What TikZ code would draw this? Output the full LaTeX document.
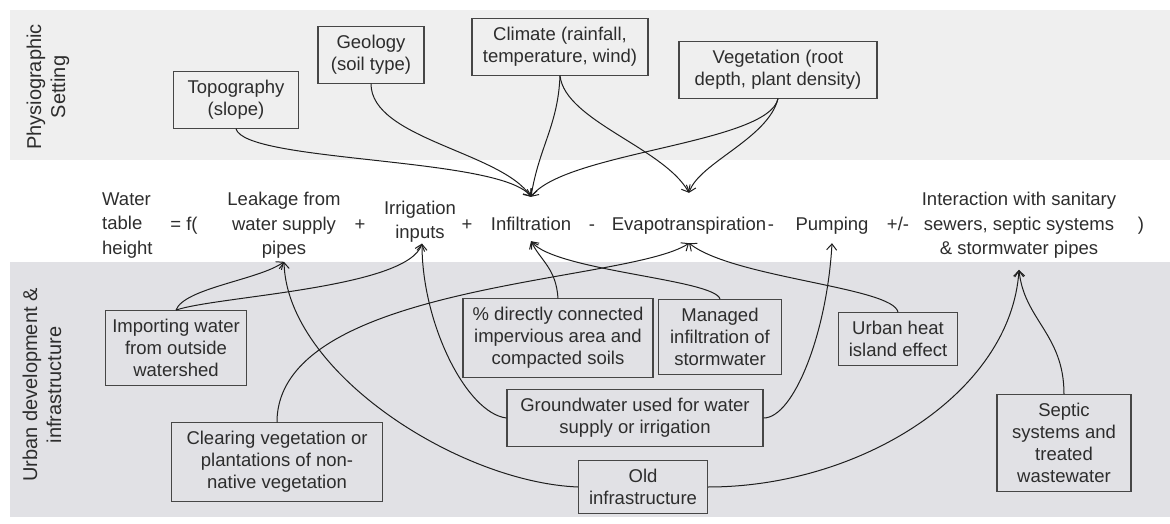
\documentclass[tikz,border=0pt]{standalone}
\usepackage{fontspec}
\setmainfont{Liberation Sans}
\usetikzlibrary{arrows.meta}
\definecolor{topband}{RGB}{239,239,239}
\definecolor{lowband}{RGB}{225,225,229}
\definecolor{ink}{RGB}{45,45,45}
\definecolor{boxline}{RGB}{70,70,70}
\definecolor{wire}{RGB}{30,30,30}
\tikzset{
		>={Straight Barb[length=6pt,width=10pt]},
		factor/.style={draw=boxline, line width=1.2pt, align=center, inner xsep=4pt, inner ysep=8.5pt, text=ink, font=\fontsize{18.5}{22}\selectfont},
		term/.style={align=center, text=ink, inner sep=1pt, font=\fontsize{18.5}{24.5}\selectfont},
		op/.style={term, text height=13pt, text depth=4pt, anchor=base},
		side/.style={rotate=90, align=center, text=ink, font=\fontsize{20}{24}\selectfont},
		flow/.style={->, line width=1pt, draw=wire}
	}

\begin{document}
\begin{tikzpicture}[x=1pt, y=1pt] % one unit = one pixel of the reference
		\useasboundingbox (0,0) rectangle (1170,523);
		\fill[topband] (10,363) rectangle (1170,513); % physiographic band
		\fill[lowband] (10,6) rectangle (1170,261); % urban band
		\node[side] (physlbl) at (48,436) {Physiographic\\Setting};
		\node[side] (urbanlbl) at (42,138) {Urban development \&\\infrastructure};

		% physiographic factors
		\node[factor, minimum width=125pt] (topo) at (236,423) {Topography\\(slope)};
		\node[factor, minimum width=106pt] (geol) at (371,468) {Geology\\(soil type)};
		\node[factor, minimum width=176pt] (clim) at (560,476) {Climate (rainfall,\\temperature, wind)};
		\node[factor, minimum width=198pt] (veg) at (778,453) {Vegetation (root\\depth, plant density)};

		% the water balance
		\node[term, align=left, anchor=west] (water) at (101,297.5) {Water\\table\\height};
		\node[op] (eqf) at (184,292.5) {= f(};
		\node[term] (leak) at (284,297.5) {Leakage from\\water supply\\pipes};
		\node[op] (plusA) at (360,292.5) {+};
		\node[term] (irrig) at (420,301.5) {Irrigation\\inputs};
		\node[op] (plusB) at (467,292.5) {+};
		\node[op] (infil) at (531,292.5) {Infiltration};
		\node[op] (minusA) at (592,292.5) {-};
		\node[op] (evap) at (689,292.5) {Evapotranspiration};
		\node[op] (minusB) at (771,292.5) {-};
		\node[op] (pump) at (832,292.5) {Pumping};
		\node[op] (plusminus) at (898,292.5) {+/-};
		\node[term] (inter) at (1019,297.5) {Interaction with sanitary\\sewers, septic systems\\\& stormwater pipes};
		\node[op] (closep) at (1141,292.5) {)};

		% urban development factors
		\node[factor, minimum width=141pt] (imp) at (176,175) {Importing water\\from outside\\watershed};
		\node[factor, minimum width=211pt] (clear) at (277,61) {Clearing vegetation or\\plantations of non-\\native vegetation};
		\node[factor, minimum width=190pt] (pct) at (558,185) {\% directly connected\\impervious area and\\compacted soils};
		\node[factor, minimum width=123pt] (manag) at (720,186) {Managed\\infiltration of\\stormwater};
		\node[factor, minimum width=256pt] (grnd) at (635,105) {Groundwater used for water\\supply or irrigation};
		\node[factor, minimum width=129pt] (old) at (643,36) {Old\\infrastructure};
		\node[factor, minimum width=119pt] (heat) at (898,184) {Urban heat\\island effect};
		\node[factor, minimum width=134pt] (septic) at (1064,80) {Septic\\systems and\\treated\\wastewater};

		% influences from above
		\draw[flow] (topo.south) .. controls +(9,-34) and +(-30,40) .. ([yshift=19.5pt]infil.north);
		\draw[flow] (geol.south) .. controls +(0,-55) and +(-30,45) .. ([yshift=19.5pt]infil.north);
		\draw[flow] (clim.south) .. controls +(-2,-50) and +(8,50) .. ([yshift=19.5pt]infil.north);
		\draw[flow] (clim.south) .. controls +(5,-45) and +(-25,45) .. ([yshift=23.5pt]evap.north);
		\draw[flow] (veg.south) .. controls +(-10,-45) and +(35,45) .. ([yshift=19.5pt]infil.north);
		\draw[flow] (veg.south) .. controls +(-10,-40) and +(10,30) .. ([yshift=23.5pt]evap.north);

		% influences from below
		\draw[flow] (imp.north) .. controls +(8,22) and +(-25,-18) .. ([yshift=-2pt]leak.south);
		\draw[flow] (imp.north) .. controls +(40,14) and +(-15,-45) .. ([xshift=2pt]irrig.south);
		\draw[flow] (old.west) .. controls +(-120,5) and +(3,-110) .. ([yshift=-2pt]leak.south);
		\draw[flow] (old.east) .. controls +(152,0) and +(-8,-123) .. ([yshift=-10pt]inter.south);
		\draw[flow] (septic.north) .. controls +(0,60) and +(5,-50) .. ([yshift=-10pt]inter.south);
		\draw[flow] (clear.north) .. controls +(0,140) and +(-60,-40) .. ([yshift=-7.5pt]evap.south);
		\draw[flow] (heat.north) .. controls +(-5,25) and +(45,-35) .. ([yshift=-7.5pt]evap.south);
		\draw[flow] (grnd.west) .. controls +(-40,5) and +(0,-80) .. ([xshift=2pt]irrig.south);
		\draw[flow] (grnd.east) .. controls +(30,0) and +(-5,-90) .. ([yshift=-7.5pt]pump.south);
		\draw[flow] (pct.north) .. controls +(-2,30) and +(10,-20) .. ([yshift=-5.5pt]infil.south);
		\draw[flow] (manag.north) .. controls +(-5,20) and +(25,-30) .. ([yshift=-5.5pt]infil.south);
	\end{tikzpicture}
\end{document}
